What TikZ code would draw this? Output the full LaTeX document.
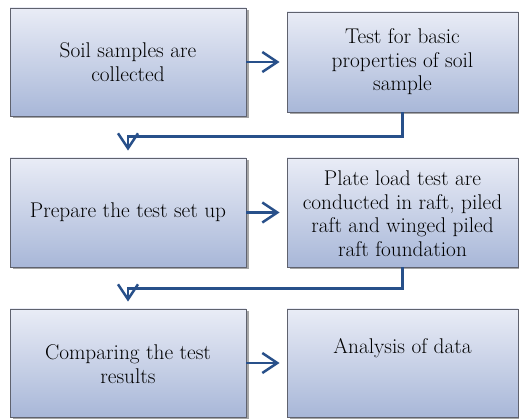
\documentclass[tikz,border=0pt]{standalone}
\usepackage{fontspec}
\usetikzlibrary{arrows.meta,shadows,calc}
\definecolor{topc}{RGB}{233,236,246}
\definecolor{botc}{RGB}{168,183,216}
\definecolor{edgec}{RGB}{95,98,110}
\definecolor{arrc}{RGB}{40,80,138}
\tikzset{
  box/.style={rectangle, draw=edgec, line width=0.9pt, top color=topc, bottom color=botc,
    minimum width=#1, align=center, inner sep=0pt,
    drop shadow={shadow xshift=2.5pt, shadow yshift=-2.5pt, fill=black, opacity=0.35}},
  txt/.style={align=center, font=\rmfamily\fontsize{21.3}{23.5}\selectfont, inner sep=0pt},
  conn/.style={draw=arrc, line width=2.5pt,
    -{Straight Barb[length=15pt, width=20pt, line width=2.5pt]}},
}
\begin{document}
\begin{tikzpicture}[x=1pt,y=1pt]
\useasboundingbox (0,0) rectangle (519,419);
% boxes
\node[box=236pt, minimum height=108pt] (b1) at (128,357) {};
\node[box=231pt, minimum height=100pt] (b2) at (402.5,357) {};
\node[box=236pt, minimum height=109pt] (b3) at (128,206.5) {};
\node[box=231pt, minimum height=109pt] (b4) at (402.5,206.5) {};
\node[box=236pt, minimum height=108pt] (b5) at (128,56) {};
\node[box=231pt, minimum height=108pt] (b6) at (402.5,56) {};
% texts
\node[txt] (t1) at (b1.center) {Soil samples are\\collected};
\node[txt] (t2) at (b2.center) {Test for basic\\properties of soil\\sample};
\node[txt] (t3) at (b3.center) {Prepare the test set up};
\node[txt] (t4) at ($(b4.center)+(0,-1)$) {Plate load test are\\conducted in raft, piled\\raft and winged piled\\raft foundation};
\node[txt] (t5) at ($(b5.center)+(0,-1)$) {Comparing the test\\results};
\node[txt] (t6) at ($(b6.center)+(0,15)$) {Analysis of data};
% connectors
\coordinate (c1) at ($(b3.north)+(0,7)$);
\coordinate (c2) at ($(b5.north)+(0,7)$);
\draw[conn, shorten >=7pt] (b1.east) -- (b2.west |- b1.east);
\draw[conn, shorten >=7pt] (b3.east) -- (b4.west |- b3.east);
\draw[conn, shorten >=7pt] (b5.east) -- (b6.west |- b5.east);
\draw[conn] (b2.south) -- ++(0,-24) -| (c1);
\draw[conn] (b4.south) -- ++(0,-21) -| (c2);
\end{tikzpicture}
\end{document}
